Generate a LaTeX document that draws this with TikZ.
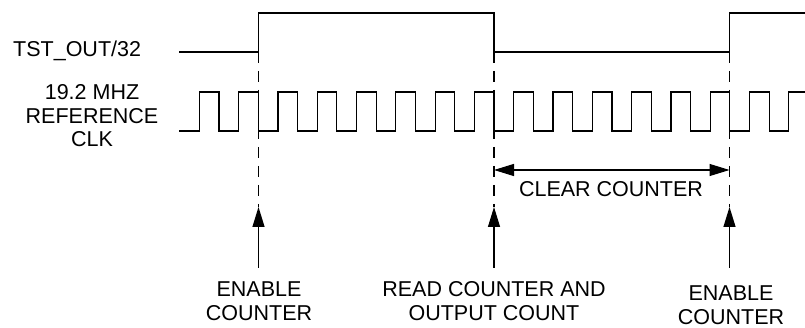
\documentclass[tikz,border=0pt]{standalone}
\usepackage{fontspec}
\setmainfont{Liberation Sans}
\usetikzlibrary{arrows.meta}
\begin{document}
\begin{tikzpicture}[x=1pt,y=-1pt,
  sig/.style={line width=1.2pt,line join=miter,line cap=rect},
  marker/.style={line width=1.1pt,dash pattern=on 11pt off 8pt},
  pointer/.style={line width=1.2pt,-{Triangle[length=20pt,width=12pt]}},
  span/.style={line width=1.2pt,{Triangle[length=20pt,width=12pt]}-{Triangle[length=20pt,width=12pt]}},
  lbl/.style={inner sep=0pt,align=center,font=\fontsize{21.5}{23.5}\selectfont}]
\useasboundingbox (0,0) rectangle (805,328);
% edge positions
\coordinate (e1) at (258.5,52);
\coordinate (e2) at (494,52);
\coordinate (e3) at (729.5,52);
% TST_OUT/32 waveform
\draw[sig] (180,52) -- (e1) -- (258.5,13) -- (494,13) -- (e2) -- (e3) -- (729.5,13) -- (805,13);
% reference clock
\draw[sig] (180,131) -- (199.3,131);
\foreach \k in {0,...,14}{
  \pgfmathsetmacro\r{199.3+39.3*\k}
  \pgfmathsetmacro\f{\r+19.65}
  \pgfmathsetmacro\n{\r+39.3}
  \draw[sig] (\r,131) -- (\r,92) -- (\f,92) -- (\f,131) -- (\n,131);
}
\draw[sig] (788.8,131) -- (788.8,92) -- (805,92);
% signal labels
\node[lbl,anchor=west] (tst) at (13,51) {TST\_OUT/32};
\node[lbl] (clk) at (92,116) {19.2 MHZ\\REFERENCE\\CLK};
% arrow tips
\coordinate (t1) at (258.5,207);
\coordinate (t2) at (494,207);
\coordinate (t3) at (729.5,207);
\coordinate (b1) at (258.5,268);
\coordinate (b2) at (494,268);
\coordinate (b3) at (729.5,268);
% dashed markers
\draw[marker] (e1) -- (t1);
\draw[marker] (e2) -- (t2);
\draw[marker] (e3) -- (t3);
% event arrows
\draw[pointer] (b1) -- (t1);
\draw[pointer] (b2) -- (t2);
\draw[pointer] (b3) -- (t3);
% event labels
\node[lbl] (en1) at (259,301) {ENABLE\\COUNTER};
\node[lbl] (rd) at (494,301) {READ COUNTER AND\\OUTPUT COUNT};
\node[lbl] (en2) at (731,305) {ENABLE\\COUNTER};
% clear counter span
\coordinate (c1) at (494,170);
\coordinate (c2) at (729.5,170);
\draw[span] (c1) -- (c2);
\node[lbl] (clr) at (611,189) {CLEAR COUNTER};
\end{tikzpicture}
\end{document}
